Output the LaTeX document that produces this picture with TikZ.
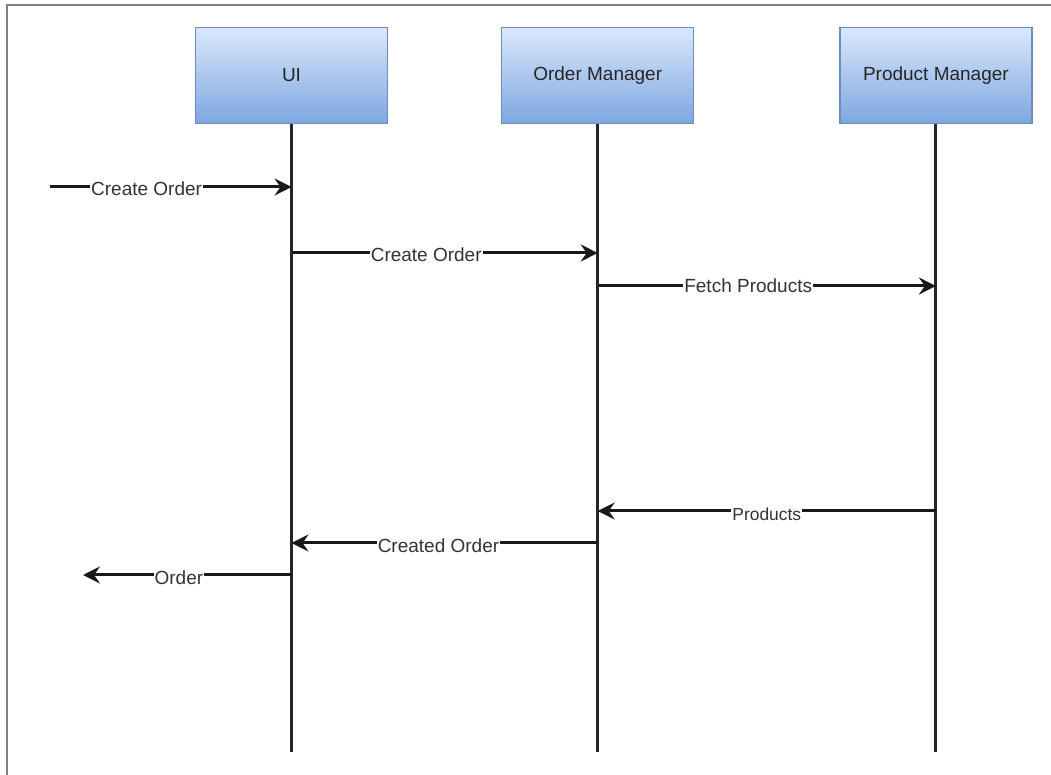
\documentclass[tikz,border=0pt]{standalone}
\usepackage{fontspec}
\setmainfont{Liberation Sans}
\usetikzlibrary{positioning,arrows.meta}
\definecolor{boxtop}{HTML}{DAE8FC}
\definecolor{boxbot}{HTML}{7EA6E0}
\definecolor{boxline}{HTML}{6C8EBF}
\tikzset{
>={Stealth[length=8.5pt,width=8.5pt,inset=3pt]},
x=0.5pt, y=-0.5pt,
actor/.style={draw=boxline, line width=0.6pt, top color=boxtop, bottom color=boxbot,
  minimum width=96pt, minimum height=48pt, inner sep=0pt,
  font=\fontsize{9.5}{11}\selectfont, text=black!85},
life/.style={line width=1.5pt, black!85},
msg/.style={->, line width=1.5pt, black!90},
lbl/.style={fill=white, inner sep=0.5pt, font=\fontsize{9.5}{11}\selectfont, text=black!80},
frame/.style={line width=1pt, gray},
}

\begin{document}
\begin{tikzpicture}
    \useasboundingbox (0,0) rectangle (1051,775);
    \draw[frame] (7,775) -- (7,5) -- (1051,5);

    \node[actor] (ui) at (291.5,75.5) {UI};
    \node[actor,right=56.5pt of ui] (om) {Order Manager};
    \node[actor,right=72.5pt of om] (pm) {Product Manager};

    \coordinate (bot) at (0,752);
    \draw[life] (ui.south) -- (ui |- bot);
    \draw[life] (om.south) -- (om |- bot);
    \draw[life] (pm.south) -- (pm |- bot);

    \coordinate (in) at (50,187);
    \coordinate (out) at (83,575);
    \coordinate (m2) at (0,253);
    \coordinate (m3) at (0,286);
    \coordinate (m4) at (0,511);
    \coordinate (m5) at (0,543);

    \draw[msg] (in) -- node[lbl,pos=.4,yshift=-0.8pt]{Create Order} (ui |- in);
    \draw[msg] (ui |- m2) -- node[lbl,pos=.44,yshift=-0.8pt]{Create Order} (om |- m2);
    \draw[msg] (om |- m3) -- node[lbl,pos=.445]{Fetch Products} (pm |- m3);
    \draw[msg] (pm |- m4) -- node[lbl,pos=.5,yshift=-1.5pt,font=\fontsize{8.7}{10}\selectfont]{Products} (om |- m4);
    \draw[msg] (om |- m5) -- node[lbl,pos=.52,yshift=-1.5pt]{Created Order} (ui |- m5);
    \draw[msg] (ui |- out) -- node[lbl,pos=.54,yshift=-1.5pt]{Order} (out);

\end{tikzpicture}
\end{document}
